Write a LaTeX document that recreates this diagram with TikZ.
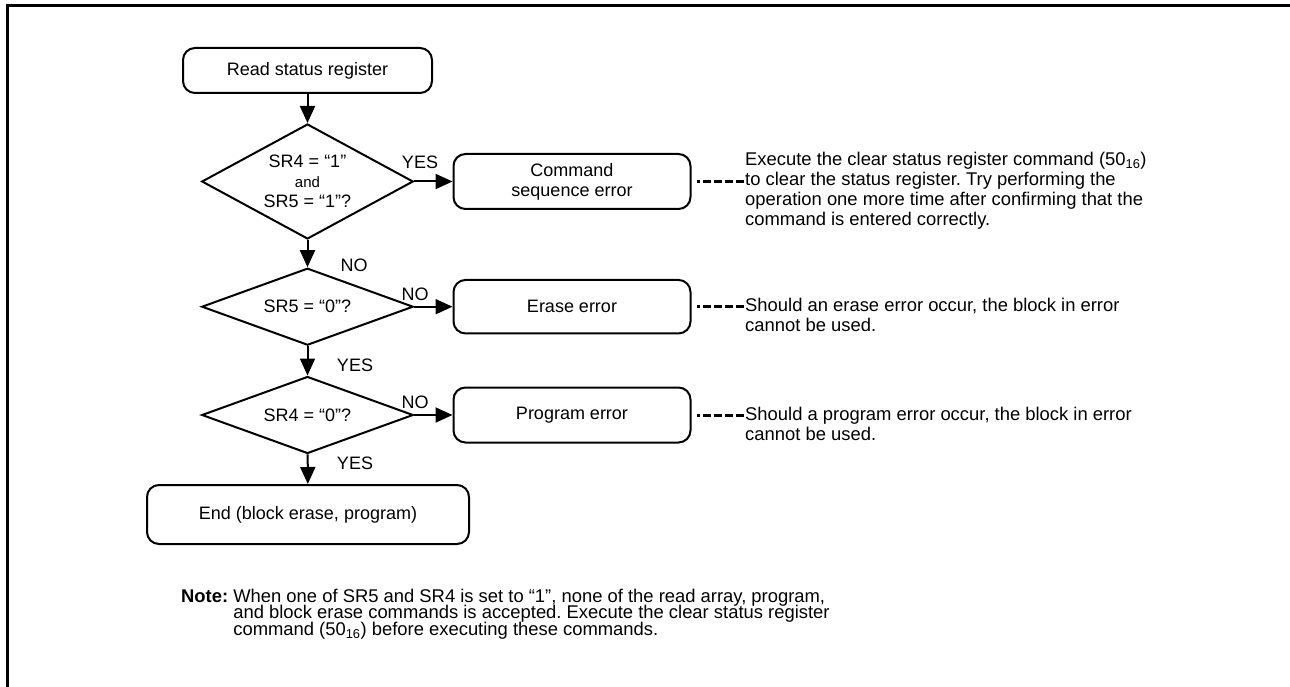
\documentclass[tikz,border=0pt]{standalone}
\usepackage{fontspec}
\setmainfont{Liberation Sans}
\usetikzlibrary{shapes.geometric,arrows.meta}
\frenchspacing
\newcommand{\tightlines}{\lineskiplimit=-20pt\relax}

\tikzset{
  flowbox/.style={draw, line width=2pt, rounded corners=12pt, align=center, inner sep=0pt, font=\fontsize{18}{20}\selectfont},
  decision/.style={draw, diamond, line width=2pt, shape aspect=2, inner sep=0pt, minimum width=211.5pt, align=center, font=\fontsize{18}{19.7}\selectfont},
  remark/.style={anchor=west, align=left, inner sep=1pt, font=\fontsize{18.4}{20}\selectfont},
  answer/.style={inner sep=0pt, font=\fontsize{18}{18}\selectfont},
  flowarrow/.style={line width=2pt, -{Triangle[length=17pt,width=15pt]}},
  dashlink/.style={line width=3pt, dash pattern=on 8.3pt off 2.7pt, shorten >=5pt}
}

\begin{document}
\begin{tikzpicture}[x=1pt, y=-1pt]
    \useasboundingbox (0,0) rectangle (1290,687);
    \draw[line width=3.3pt] (7.7,687) -- (7.7,5.7) -- (1290,5.7);

    \node[flowbox, minimum width=249pt, minimum height=45pt] (read) at (307.5,70.5) {Read status register};
    \node[decision, minimum height=115pt] (dia1) at (307.5,181.5) {SR4 = “1”\\{\fontsize{15}{15}\selectfont and}\\SR5 = “1”?};
    \node[decision, minimum height=77pt] (dia2) at (307.5,306.7) {SR5 = “0”?};
    \node[decision, minimum height=77pt] (dia3) at (307.5,415) {SR4 = “0”?};
    \node[flowbox, minimum width=322pt, minimum height=59pt] (end) at (308,514.5) {End (block erase, program)};

    \node[flowbox, minimum width=237pt, minimum height=55pt] (cmd) at (572,181.5) {Command\\sequence error};
    \node[flowbox, minimum width=237pt, minimum height=53.5pt] (erase) at (572,306.7) {Erase error};
    \node[flowbox, minimum width=237pt, minimum height=55pt] (prog) at (572,415) {Program error};

    \node[remark] (remcmd) at (744,191) {Execute the clear status register command (50\textsubscript{16})\\to clear the status register. Try performing the\\operation one more time after confirming that the\\command is entered correctly.};
    \node[remark] (remerase) at (744,314.5) {Should an erase error occur, the block in error\\cannot be used.};
    \node[remark] (remprog) at (744,423.5) {Should a program error occur, the block in error\\cannot be used.};

    \node[answer] (yes1) at (420,162.3) {YES};
    \node[answer] (no1) at (354,265.7) {NO};
    \node[answer] (no2) at (415,294) {NO};
    \node[answer] (yes2) at (355,365) {YES};
    \node[answer] (no3) at (415,402.7) {NO};
    \node[answer] (yes3) at (355,463.3) {YES};

    \draw[flowarrow] (read) -- (dia1);
    \draw[flowarrow] (dia1) -- (dia2);
    \draw[flowarrow] (dia2) -- (dia3);
    \draw[flowarrow] (dia3) -- (end);
    \draw[flowarrow] (dia1.east) -- (cmd.west);
    \draw[flowarrow] (dia2.east) -- (erase.west);
    \draw[flowarrow] (dia3.east) -- (prog.west);

    \draw[dashlink] (cmd.east -| remcmd.west) -- (cmd.east);
    \draw[dashlink] (erase.east -| remerase.west) -- (erase.east);
    \draw[dashlink] (prog.east -| remprog.west) -- (prog.east);

    \node[anchor=north west, align=left, inner sep=0pt, font={\fontsize{18.4}{16.5}\selectfont\tightlines}] (note) at (181,588.5)
      {\textbf{Note:} When one of SR5 and SR4 is set to “1”, none of the read array, program,\\
       \phantom{\textbf{Note:}\ }and block erase commands is accepted. Execute the clear status register\\
       \phantom{\textbf{Note:}\ }command (50\textsubscript{16}) before executing these commands.};
  \end{tikzpicture}
\end{document}
